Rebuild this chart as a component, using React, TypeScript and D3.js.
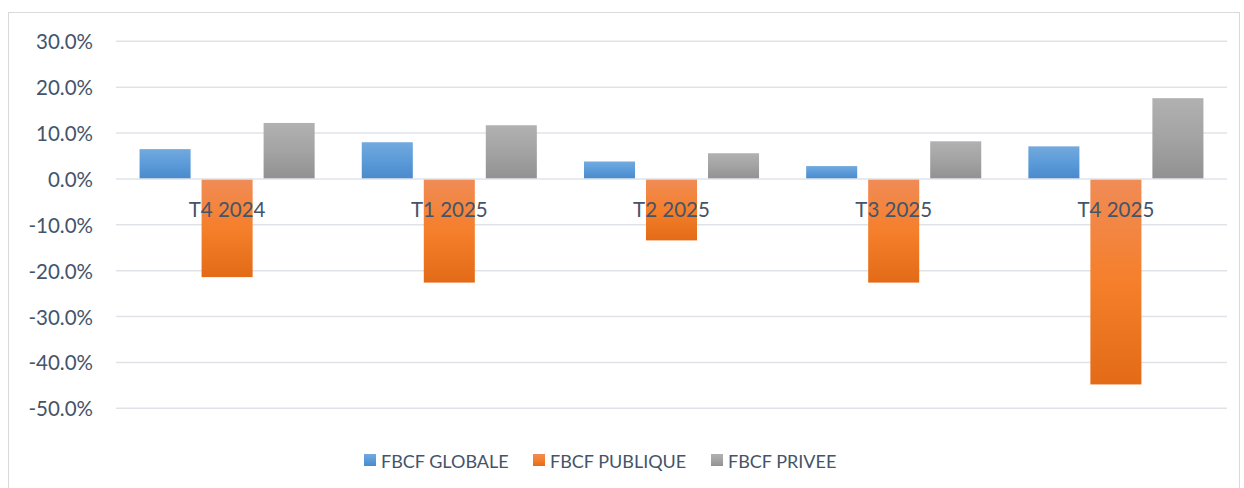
import * as d3 from "d3";
import React from "react";

const categories = ["T4 2024", "T1 2025", "T2 2025", "T3 2025", "T4 2025"];
const seriesNames = ["FBCF GLOBALE", "FBCF PUBLIQUE", "FBCF PRIVEE"];
const globale = [0.065, 0.08, 0.038, 0.028, 0.071];
const publique = [-0.214, -0.226, -0.134, -0.226, -0.448];
const privee = [0.122, 0.117, 0.056, 0.082, 0.176];
const yTicks = [0.3, 0.2, 0.1, 0, -0.1, -0.2, -0.3, -0.4, -0.5];

const gradients = [
  { id: "gBlue", stops: ["#73a9de", "#5b9bd9", "#4a89cb"] },
  { id: "gOrange", stops: ["#f08c57", "#f57f2b", "#e36b18"] },
  { id: "gGrey", stops: ["#b1b1b1", "#a3a3a3", "#919191"] },
];

const width = 1244;
const height = 488;
const font = "Lato, 'Open Sans', sans-serif";
const textColor = "#44546a";

export default function App() {
  const ref = React.useRef<SVGSVGElement | null>(null);

  React.useEffect(() => {
    if (!ref.current) return;
    const svg = d3.select(ref.current);
    svg.selectAll("*").remove();

    const values = [globale, publique, privee];

    const defs = svg.append("defs");
    gradients.forEach((g) => {
      const lg = defs
        .append("linearGradient")
        .attr("id", g.id)
        .attr("x1", 0)
        .attr("y1", 0)
        .attr("x2", 0)
        .attr("y2", 1);
      g.stops.forEach((c, i) =>
        lg.append("stop").attr("offset", i / (g.stops.length - 1)).attr("stop-color", c)
      );
    });

    // chart area border
    svg
      .append("rect")
      .attr("x", 8.5)
      .attr("y", 12.5)
      .attr("width", 1231)
      .attr("height", 500)
      .attr("fill", "none")
      .attr("stroke", "#d9d9d9");

    const x0 = d3.scaleBand<string>().domain(categories).range([116, 1227]).padding(0);
    const x1 = d3
      .scaleBand<string>()
      .domain(seriesNames)
      .range([0, x0.bandwidth()])
      .paddingInner(0.177)
      .paddingOuter(0.38);
    const y = d3.scaleLinear().domain([-0.5, 0.3]).range([408.3, 41.3]);

    // gridlines
    svg
      .append("g")
      .selectAll("line")
      .data(yTicks.filter((t) => t !== 0))
      .join("line")
      .attr("x1", 116)
      .attr("x2", 1227)
      .attr("y1", (d) => y(d))
      .attr("y2", (d) => y(d))
      .attr("stroke", "#dfe3e8")
      .attr("stroke-width", 1.5);

    // y labels
    svg
      .append("g")
      .selectAll("text")
      .data(yTicks)
      .join("text")
      .attr("x", 93)
      .attr("y", (d) => y(d))
      .attr("text-anchor", "end")
      .attr("dominant-baseline", "central")
      .attr("font-family", font)
      .attr("font-size", 20.5)
      .attr("fill", textColor)
      .text((d) => d3.format(".1%")(d).replace("−", "-"));

    // bars
    seriesNames.forEach((s, si) => {
      svg
        .append("g")
        .selectAll("rect")
        .data(categories)
        .join("rect")
        .attr("x", (c) => (x0(c) || 0) + (x1(s) || 0))
        .attr("y", (c, i) => y(Math.max(0, values[si][i])))
        .attr("width", x1.bandwidth())
        .attr("height", (c, i) => Math.abs(y(values[si][i]) - y(0)))
        .attr("fill", `url(#${gradients[si].id})`);
    });

    // zero axis line
    svg
      .append("line")
      .attr("x1", 116)
      .attr("x2", 1227)
      .attr("y1", y(0))
      .attr("y2", y(0))
      .attr("stroke", "#dfe3e8")
      .attr("stroke-width", 1.5);

    // category labels
    svg
      .append("g")
      .selectAll("text")
      .data(categories)
      .join("text")
      .attr("x", (c) => (x0(c) || 0) + x0.bandwidth() / 2)
      .attr("y", 217)
      .attr("text-anchor", "middle")
      .attr("font-family", font)
      .attr("font-size", 20.5)
      .attr("fill", textColor)
      .text((c) => c);

    // legend
    const legendX = [364, 533, 711];
    const lg = svg.append("g");
    seriesNames.forEach((s, i) => {
      lg.append("rect")
        .attr("x", legendX[i])
        .attr("y", 454)
        .attr("width", 12)
        .attr("height", 12)
        .attr("fill", `url(#${gradients[i].id})`);
      lg.append("text")
        .attr("x", legendX[i] + 17)
        .attr("y", 467.5)
        .attr("font-family", font)
        .attr("font-size", 18)
        .attr("fill", textColor)
        .text(s);
    });
  }, []);

  return (
    <svg
      ref={ref}
      width={width}
      height={height}
      style={{ position: "absolute", left: 0, top: 0, background: "#fff" }}
    />
  );
}
